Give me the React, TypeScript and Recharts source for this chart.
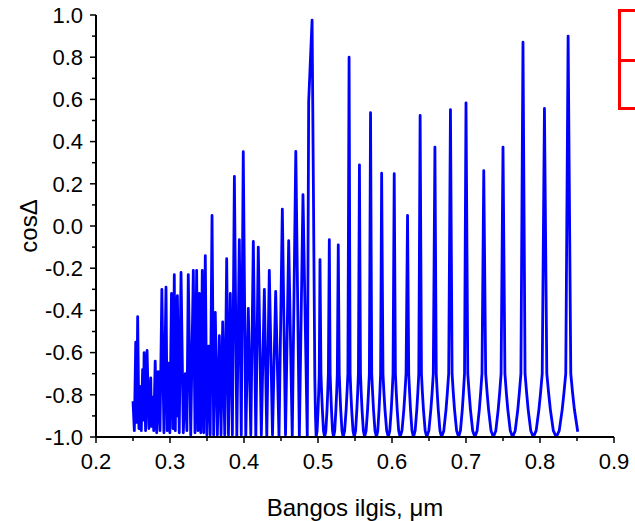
import { LineChart, Line, XAxis, YAxis } from 'recharts';

// cosΔ spectrum as [wavelength µm, cosΔ]
const denseSegment: [number, number][] = [
  [0.25, -0.83], [0.2518, -0.97], [0.2537, -0.55], [0.255, -0.93], [0.2563, -0.43],
  [0.258, -0.96], [0.2595, -0.76], [0.2612, -0.97], [0.263, -0.68], [0.264, -0.92],
  [0.265, -0.6], [0.267, -0.97], [0.269, -0.59], [0.2715, -0.96], [0.274, -0.72],
  [0.275, -0.95], [0.276, -0.81], [0.278, -0.97], [0.28, -0.64], [0.282, -0.98],
  [0.284, -0.69], [0.2865, -0.97], [0.289, -0.3], [0.2918, -0.98], [0.2946, -0.29],
  [0.2962, -0.97], [0.2977, -0.65], [0.2998, -0.98], [0.302, -0.32], [0.304, -0.96],
  [0.3058, -0.23], [0.3072, -0.97], [0.3085, -0.34], [0.3093, -0.9], [0.31, -0.33],
  [0.3125, -0.98], [0.3149, -0.22], [0.318, -0.98], [0.3207, -0.7], [0.3228, -0.97],
  [0.3247, -0.23], [0.328, -0.99], [0.3315, -0.21], [0.3338, -0.98], [0.336, -0.21],
  [0.3378, -0.97], [0.3396, -0.32], [0.3416, -0.98], [0.3436, -0.21], [0.3456, -0.98],
  [0.3477, -0.14], [0.3498, -0.99], [0.3518, -0.57], [0.3543, -0.99], [0.3568, 0.05],
  [0.359, -0.99], [0.3612, -0.41], [0.364, -0.99], [0.3667, -0.52], [0.369, -0.99],
  [0.3712, -0.455], [0.374, -0.99], [0.3766, -0.155], [0.379, -0.99], [0.3815, -0.32],
  [0.3843, -0.99], [0.387, 0.235], [0.3903, -1.0], [0.3937, -0.065], [0.3963, -0.99],
  [0.399, 0.352], [0.4024, -1.0], [0.4058, -0.39], [0.4092, -0.99], [0.4126, -0.073],
  [0.416, -1.0], [0.4193, -0.1], [0.4234, -0.99], [0.4275, -0.3], [0.4308, -1.0],
  [0.4342, -0.21], [0.4385, -0.99], [0.4428, -0.31], [0.4473, -1.0], [0.4518, 0.08],
  [0.4561, -0.99], [0.4604, -0.07], [0.4652, -1.0], [0.47, 0.354], [0.4748, -1.0],
  [0.4797, 0.149], [0.4855, -1.0],
];

const midSegment: [number, number][] = [
  [0.4874, 0.59], [0.492, 0.976], [0.4937, 0.22], [0.4957, -0.72], [0.4966, -0.9],
  [0.4975, -1.0], [0.4988, -0.97], [0.5001, -0.87], [0.5009, -0.79], [0.5017, -0.7],
  [0.5027, -0.16],
  [0.504, -0.7], [0.5049, -0.79], [0.5059, -0.87], [0.5074, -0.97], [0.509, -1.0],
  [0.5106, -0.97], [0.5122, -0.87], [0.5131, -0.79], [0.514, -0.7], [0.5153, -0.065],
  [0.5164, -0.7], [0.5173, -0.79], [0.5182, -0.87], [0.5196, -0.97], [0.521, -1.0],
  [0.5226, -0.97], [0.5242, -0.87], [0.5252, -0.79], [0.5261, -0.7], [0.5274, -0.089],
  [0.5287, -0.7], [0.5297, -0.79], [0.5307, -0.87], [0.5324, -0.97], [0.534, -1.0],
  [0.536, -0.97], [0.538, -0.87], [0.5392, -0.79], [0.5404, -0.7], [0.542, 0.8],
  [0.5434, -0.7], [0.5444, -0.79], [0.5455, -0.87], [0.5473, -0.97], [0.549, -1.0],
  [0.5508, -0.97], [0.5525, -0.87], [0.5536, -0.79], [0.5546, -0.7], [0.556, 0.29],
  [0.5574, -0.7], [0.5584, -0.79], [0.5595, -0.87], [0.5613, -0.97], [0.563, -1.0],
  [0.565, -0.97], [0.567, -0.87], [0.5682, -0.79], [0.5694, -0.7], [0.571, 0.537],
  [0.5726, -0.7], [0.5738, -0.79], [0.575, -0.87], [0.577, -0.97], [0.579, -1.0],
  [0.5808, -0.97], [0.5825, -0.87], [0.5836, -0.79], [0.5846, -0.7], [0.586, 0.25],
  [0.5878, -0.7], [0.5891, -0.79], [0.5905, -0.87], [0.5928, -0.97], [0.595, -1.0],
  [0.597, -0.97], [0.599, -0.87], [0.6002, -0.79], [0.6014, -0.7], [0.603, 0.248],
  [0.6046, -0.7], [0.6058, -0.79], [0.607, -0.87], [0.609, -0.97], [0.611, -1.0],
  [0.6135, -0.97], [0.616, -0.87], [0.6175, -0.79], [0.619, -0.7], [0.621, 0.05],
  [0.6226, -0.7], [0.6238, -0.79], [0.625, -0.87], [0.627, -0.97], [0.629, -1.0],
  [0.6313, -0.97], [0.6335, -0.87], [0.6349, -0.79], [0.6362, -0.7],
];

const longSegment: [number, number][] = [
  [0.638, 0.524], [0.6398, -0.7], [0.6411, -0.79], [0.6425, -0.87], [0.6448, -0.97],
  [0.647, -1.0], [0.6498, -0.97], [0.6525, -0.87], [0.6542, -0.79], [0.6558, -0.7],
  [0.658, 0.374], [0.6598, -0.7], [0.6611, -0.79], [0.6625, -0.87], [0.6648, -0.97],
  [0.667, -1.0], [0.67, -0.97], [0.673, -0.87], [0.6748, -0.79], [0.6766, -0.7],
  [0.679, 0.552], [0.6812, -0.7], [0.6828, -0.79], [0.6845, -0.87], [0.6873, -0.97],
  [0.69, -1.0], [0.6925, -0.97], [0.695, -0.87], [0.6965, -0.79], [0.698, -0.7],
  [0.7, 0.584], [0.7024, -0.7], [0.7042, -0.79], [0.706, -0.87], [0.709, -0.97],
  [0.712, -1.0], [0.715, -0.97], [0.718, -0.87], [0.7198, -0.79], [0.7216, -0.7],
  [0.724, 0.262], [0.7266, -0.7], [0.7285, -0.79], [0.7305, -0.87], [0.7338, -0.97],
  [0.737, -1.0], [0.7403, -0.97], [0.7435, -0.87], [0.7455, -0.79], [0.7474, -0.7],
  [0.75, 0.374], [0.7526, -0.7], [0.7545, -0.79], [0.7565, -0.87], [0.7598, -0.97],
  [0.763, -1.0], [0.7665, -0.97], [0.77, -0.87], [0.7721, -0.79], [0.7742, -0.7],
  [0.777, 0.871], [0.7798, -0.7], [0.7819, -0.79], [0.784, -0.87], [0.7875, -0.97],
  [0.791, -1.0], [0.7948, -0.97], [0.7985, -0.87], [0.8008, -0.79], [0.803, -0.7],
  [0.806, 0.557], [0.8092, -0.7], [0.8116, -0.79], [0.814, -0.87], [0.818, -0.97],
  [0.822, -1.0], [0.826, -0.97], [0.83, -0.87], [0.8324, -0.79], [0.8348, -0.7],
  [0.838, 0.9], [0.8416, -0.7], [0.844, -0.79], [0.8465, -0.87], [0.851, -0.975],
];

const xMajorTicks = [0.2, 0.3, 0.4, 0.5, 0.6, 0.7, 0.8, 0.9];
const xMinorTicks = [0.25, 0.35, 0.45, 0.55, 0.65, 0.75, 0.85];
const yMajorTicks = [-1, -0.8, -0.6, -0.4, -0.2, 0, 0.2, 0.4, 0.6, 0.8, 1];
const yMinorTicks = [-0.9, -0.7, -0.5, -0.3, -0.1, 0.1, 0.3, 0.5, 0.7, 0.9];

const data = [...denseSegment, ...midSegment, ...longSegment].map(([x, y]) => ({ x, y }));

const FONT = "'Liberation Sans', Arial, sans-serif";
const isIn = (list: number[], v: number) => list.some((t) => Math.abs(t - v) < 1e-9);

function XTick({ x, y, payload }: any) {
  const major = isIn(xMajorTicks, payload.value);
  return (
    <g>
      <line x1={x} y1={y} x2={x} y2={y + (major ? 6 : 4)} stroke="#000" strokeWidth={1.5} />
      {major && (
        <text x={x} y={y + 16} dy="0.71em" textAnchor="middle" fontSize={22} fontFamily={FONT} fill="#000">
          {payload.value.toFixed(1)}
        </text>
      )}
    </g>
  );
}

function YTick({ x, y, payload }: any) {
  const major = isIn(yMajorTicks, payload.value);
  return (
    <g>
      <line x1={x - (major ? 6 : 4)} y1={y} x2={x} y2={y} stroke="#000" strokeWidth={1.5} />
      {major && (
        <text x={x - 13} y={y} dy="0.355em" textAnchor="end" fontSize={22} fontFamily={FONT} fill="#000">
          {payload.value.toFixed(1)}
        </text>
      )}
    </g>
  );
}

export default function App() {
  return (
    <div style={{ position: 'absolute', left: 0, top: 0, width: 635, height: 521, overflow: 'hidden', background: '#fff' }}>
      <LineChart width={635} height={521} data={data} margin={{ top: 15, right: 21, bottom: 0, left: 0 }}>
        <XAxis
          dataKey="x"
          type="number"
          domain={[0.2, 0.9]}
          ticks={[...xMajorTicks, ...xMinorTicks].sort((a, b) => a - b)}
          interval={0}
          height={84}
          tickSize={0}
          tickMargin={0}
          tickLine={false}
          tick={<XTick />}
          axisLine={{ stroke: '#000', strokeWidth: 2 }}
          allowDataOverflow
          label={{
            content: ({ viewBox }: any) => (
              <text
                x={viewBox.x + viewBox.width / 2}
                y={viewBox.y + 79}
                textAnchor="middle"
                fontSize={24}
                fontFamily={FONT}
                fill="#000"
              >
                Bangos ilgis, μm
              </text>
            ),
          }}
        />
        <YAxis
          type="number"
          domain={[-1, 1]}
          ticks={[...yMajorTicks, ...yMinorTicks].sort((a, b) => a - b)}
          interval={0}
          width={96}
          tickSize={0}
          tickMargin={0}
          tickLine={false}
          tick={<YTick />}
          axisLine={{ stroke: '#000', strokeWidth: 2 }}
          allowDataOverflow
          label={{
            content: ({ viewBox }: any) => {
              const cx = viewBox.x + 28;
              const cy = viewBox.y + viewBox.height / 2;
              return (
                <text
                  x={cx}
                  y={cy}
                  transform={`rotate(-90 ${cx} ${cy})`}
                  textAnchor="middle"
                  dy="0.355em"
                  fontSize={24}
                  fontFamily={FONT}
                  fill="#000"
                >
                  cosΔ
                </text>
              );
            },
          }}
        />
        <Line
          dataKey="y"
          type="linear"
          stroke="#0000ff"
          strokeWidth={2.8}
          strokeLinejoin="round"
          dot={false}
          isAnimationActive={false}
        />
      </LineChart>
      {/* legend frame, cut off by the right edge */}
      <div
        style={{
          position: 'absolute',
          left: 618,
          top: 9,
          width: 40,
          height: 101,
          boxSizing: 'border-box',
          border: '3px solid #ff0000',
        }}
      />
      <div style={{ position: 'absolute', left: 618, top: 58.5, width: 40, height: 3, background: '#ff0000' }} />
    </div>
  );
}
